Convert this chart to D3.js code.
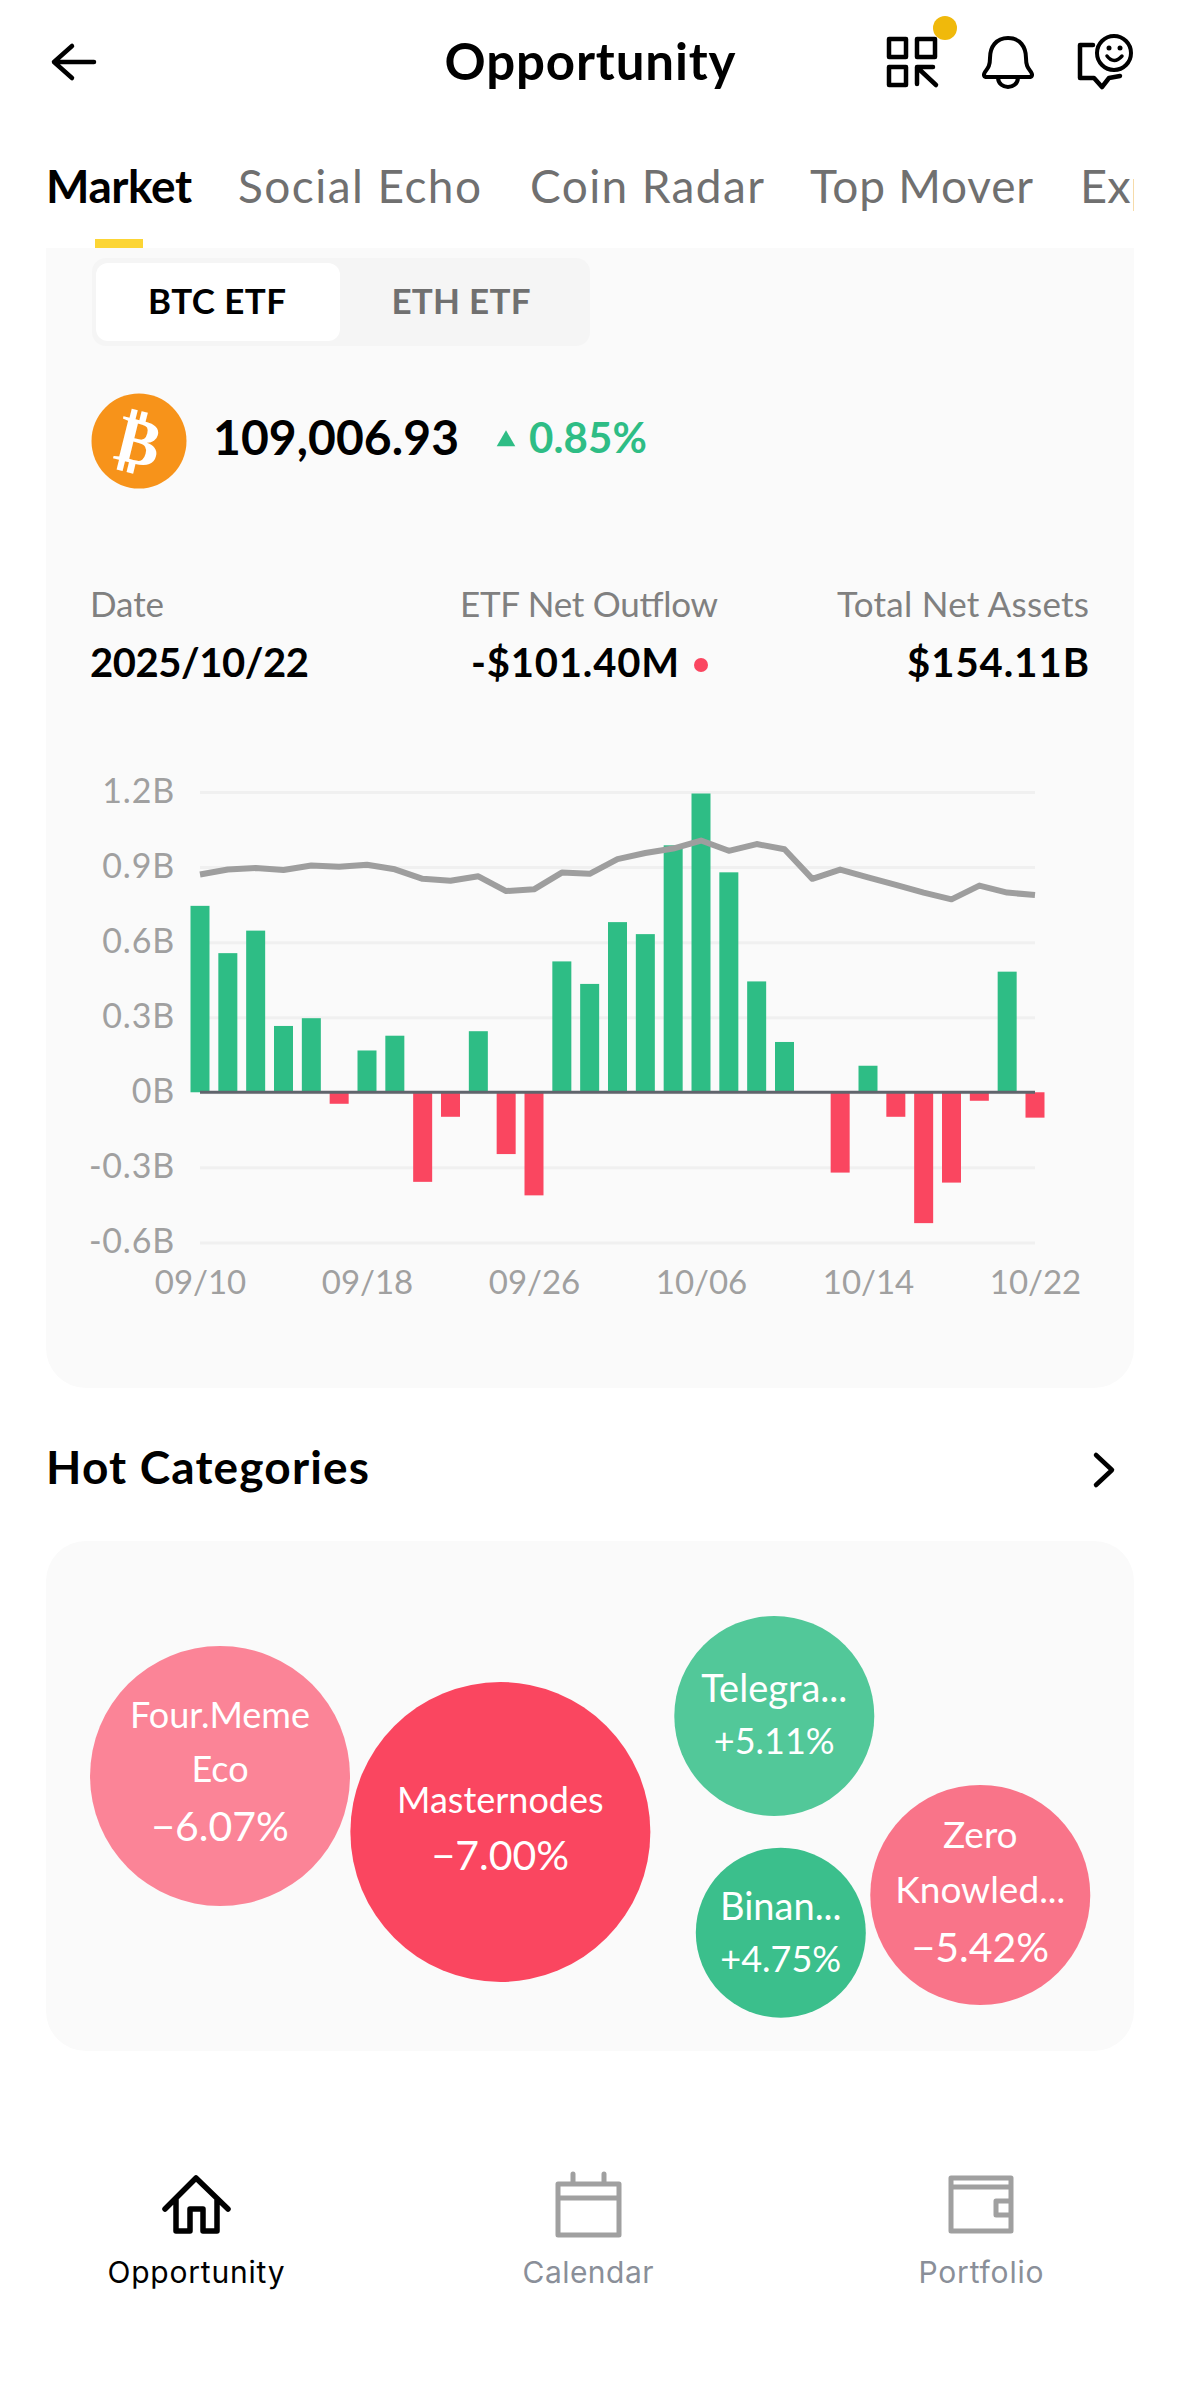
<!DOCTYPE html>
<html><head><meta charset="utf-8">
<script src="https://cdnjs.cloudflare.com/ajax/libs/d3/7.8.5/d3.min.js"></script>
<style>html,body{margin:0;padding:0;background:#fff}svg{display:block}text{font-family:Lato,"Noto Sans",sans-serif}</style>
</head><body><svg id="c" width="1179" height="2396"></svg>
<script>
const days=["09/10","09/11","09/12","09/15","09/16","09/17","09/18","09/19","09/22","09/23","09/24","09/25","09/26","09/29","09/30","10/01","10/02","10/03","10/06","10/07","10/08","10/09","10/10","10/13","10/14","10/15","10/16","10/17","10/20","10/21","10/22"];
const netFlow=[.745,.556,.646,.265,.296,-.046,.167,.226,-.358,-.098,.244,-.247,-.412,.523,.433,.68,.632,.987,1.194,.879,.443,.201,-.003,-.321,.106,-.098,-.523,-.361,-.034,.482,-.1014];
const netAssetsLine=[.870,.890,.896,.888,.906,.901,.909,.891,.853,.845,.863,.804,.811,.878,.873,.932,.956,.974,1.006,.965,.992,.971,.853,.890,.859,.829,.798,.771,.826,.798,.788];
const yTicks=[-.6,-.3,0,.3,.6,.9,1.2];
const xTicks=["09/10","09/18","09/26","10/06","10/14","10/22"];
const tabs=["Market","Social Echo","Coin Radar","Top Mover","Exp"];
const bubbleNames=[["Four.Meme","Eco"],["Masternodes"],["Telegra..."],["Binan..."],["Zero","Knowled..."]];
const bubbleChange=[-6.07,-7.00,5.11,4.75,-5.42];
const bubbleColX=[.1601,.4180,.6700,.6760,.8595];
const bubbleRowY=[.4608,.5706,.3431,.7680,.6941];
const bubbleFill=["#FB8497","#FA4660","#52C899","#3BBF8C","#F97489"];

const GREEN="#2EBD85",RED="#FA4660";
const svg=d3.select("#c");
const T=(s,x,y,size,o={})=>{const t=svg.append("text").text(s).attr("x",x).attr("y",y).attr("font-size",size)
  .attr("font-weight",o.w||400).attr("fill",o.c||"#000").attr("text-anchor",o.a||"start");
  if(o.tl)t.attr("textLength",o.tl); if(o.f)t.style("font-family",o.f); return t;};

// cards
svg.append("path").attr("d","M46 248H1134V1348a40 40 0 0 1-40 40H86a40 40 0 0 1-40-40Z").attr("fill","#fafafa");
svg.append("rect").attr("x",46).attr("y",1541).attr("width",1088).attr("height",510).attr("rx",40).attr("fill","#fafafa");

// header
T("Opportunity",590,80,51,{w:700,a:"middle",tl:291});
const icon=(d,sw=4,c="#000")=>svg.append("path").attr("d",d).attr("fill","none").attr("stroke",c).attr("stroke-width",sw).attr("stroke-linecap","round").attr("stroke-linejoin","round");
icon("M94 62H54M72 46L54 62L72 78",4.5);
icon("M889 39h17v18h-17ZM917 39h18v18h-18ZM889 67h17v18h-17ZM917 84V67h16M920 70L936 85",4.5);
svg.append("circle").attr("cx",945).attr("cy",28).attr("r",12).attr("fill","#F0B90B");
icon("M1008 38c-12 0-18 9-18 20c0 8-2 10-5 14c-2 3-1 5 2 5h42c3 0 4-2 2-5c-3-4-5-6-5-14c0-11-6-20-18-20ZM998 78c1 12 19 12 20 0",4);
icon("M1093 45H1080V78H1094L1102 87L1109 78L1120 76",4.5);
svg.append("circle").attr("cx",1114).attr("cy",53).attr("r",17).attr("fill","none").attr("stroke","#000").attr("stroke-width",4);
svg.append("circle").attr("cx",1109).attr("cy",48).attr("r",2.5);svg.append("circle").attr("cx",1120).attr("cy",48).attr("r",2.5);
icon("M1107 56Q1114 65 1122 56",3.5);

// tabs
svg.append("clipPath").attr("id","tc").append("rect").attr("x",0).attr("y",150).attr("width",1134).attr("height",90);
const tabG=svg.append("g").attr("clip-path","url(#tc)");
const tabX=[46,238,530,810,1080],tabL=[146,243,234,223,null];
tabs.forEach((t,i)=>{const e=tabG.append("text").text(t).attr("x",tabX[i]).attr("y",203).attr("font-size",i===4?47:46).attr("font-weight",i?400:700).attr("fill",i?"#707070":"#000"); if(tabL[i])e.attr("textLength",tabL[i]);});
svg.append("rect").attr("x",95).attr("y",239).attr("width",48).attr("height",9).attr("fill","#FCD535");

// segment
svg.append("rect").attr("x",92).attr("y",258).attr("width",498).attr("height",88).attr("rx",14).attr("fill","#f5f5f5");
svg.append("rect").attr("x",96).attr("y",263).attr("width",244).attr("height",78).attr("rx",12).attr("fill","#fff");
T("BTC ETF",217,314,35,{w:700,a:"middle",tl:138});
T("ETH ETF",461,314,35,{w:700,a:"middle",c:"#707070",tl:139});

// price row
svg.append("circle").attr("cx",139).attr("cy",441).attr("r",47.5).attr("fill","#F7931A");
svg.append("text").text("₿").attr("x",139).attr("y",464).attr("font-size",66).attr("font-weight",700).attr("fill","#fff").attr("text-anchor","middle")
  .attr("transform","rotate(14 139 441)").style("font-family","'DejaVu Sans'");
T("109,006.93",213,455,48,{w:700,tl:246});
svg.append("path").attr("d",d3.symbol(d3.symbolTriangle,150)()).attr("transform","translate(506,441)").attr("fill",GREEN);
T("0.85%",529,453,42,{w:700,c:GREEN,tl:118});

// stats
T("Date",90,617,35,{c:"#808080",tl:74});
T("ETF Net Outflow",589,617,35,{c:"#808080",a:"middle",tl:258});
T("Total Net Assets",1089,617,35,{c:"#808080",a:"end",tl:252});
T("2025/10/22",90,677,40,{w:700,tl:219});
T("-$101.40M",575,677,40,{w:700,a:"middle",tl:208});
svg.append("circle").attr("cx",701).attr("cy",665).attr("r",7).attr("fill",RED);
T("$154.11B",1089,677,40,{w:700,a:"end",tl:182});

// chart
const x=d3.scalePoint().domain(days).range([200,1035]);
const y=d3.scaleLinear().domain([-.6,1.2]).range([1242.4,792]);
const yFmt=v=>v===0?"0B":v.toFixed(1)+"B";
const yAxis=svg.append("g").attr("transform","translate(200,0)").call(d3.axisLeft(y).tickValues(yTicks).tickFormat(yFmt).tickSize(-835).tickPadding(25));
yAxis.select(".domain").remove();
yAxis.selectAll("line").attr("stroke","#f0f0f0").attr("stroke-width",3);
yAxis.selectAll("text").attr("font-size",34).attr("letter-spacing",.8).attr("fill","#a0a0a0").attr("dy",null).attr("y",0).attr("transform","translate(0,10)");
const xAxis=svg.append("g").attr("transform","translate(0,1242.4)").call(d3.axisBottom(x).tickValues(xTicks).tickSize(0));
xAxis.select(".domain").remove();
xAxis.selectAll("text").attr("font-size",33).attr("fill","#a0a0a0").attr("dy",null).attr("y",0).attr("transform","translate(0,51.6)");
const bw=19;
svg.append("g").selectAll("rect").data(days).join("rect")
  .attr("x",d=>x(d)-bw/2).attr("width",bw)
  .attr("y",(d,i)=>y(Math.max(netFlow[i],0)))
  .attr("height",(d,i)=>Math.abs(y(netFlow[i])-y(0)))
  .attr("fill",(d,i)=>netFlow[i]>=0?GREEN:RED);
svg.append("line").attr("x1",200).attr("x2",1035).attr("y1",y(0)).attr("y2",y(0)).attr("stroke","#60646c").attr("stroke-width",3);
svg.append("path").attr("d",d3.line().x(d=>x(d)).y((d,i)=>y(netAssetsLine[i]))(days)).attr("fill","none").attr("stroke","#9e9e9e").attr("stroke-width",6).attr("stroke-linejoin","round");

// hot categories
T("Hot Categories",46,1484,46,{w:700,tl:323});
icon("M1096 1455L1112 1470L1096 1485",4.5);
const bx=d3.scaleLinear().domain([0,1]).range([46,1133]);
const by=d3.scaleLinear().domain([0,1]).range([1541,2051]);
const br=d3.scaleLinear().domain([4.75,5.11,5.42,6.07,7]).range([85,100,110,130,150]);
const pctOffset=[65,38,38,39,67], nameGap=[59,57,52,52,59], lineH=[54,0,0,0,55], pctSize=[41,41,36,36,41], nameSize=[36,36,38,38,37];
const bg=svg.append("g");
bubbleChange.forEach((c,i)=>{
  const cx=bx(bubbleColX[i]), cy=by(bubbleRowY[i]), r=br(Math.abs(c));
  bg.append("circle").attr("cx",cx).attr("cy",cy).attr("r",r).attr("fill",bubbleFill[i]);
  const n=bubbleNames[i], pctY=cy+pctOffset[i];
  n.forEach((s,j)=>{
    bg.append("text").text(s).attr("x",cx).attr("y",pctY-nameGap[i]-(n.length-1-j)*lineH[i]).attr("font-size",nameSize[i]).attr("fill","#fff").attr("text-anchor","middle");
  });
  bg.append("text").text((c>0?"+":"−")+Math.abs(c).toFixed(2)+"%").attr("x",cx).attr("y",pctY).attr("font-size",pctSize[i]).attr("fill","#fff").attr("text-anchor","middle");
});

// bottom nav
icon("M165 2209L196 2178L228 2209M176 2199V2231H190V2209H203V2231H217V2199",5.5);
T("Opportunity",196,2283,30,{a:"middle",tl:177,f:"Inter"});
icon("M558 2184h61v51h-61ZM558 2198h61M573 2174v10M604 2174v10",5,"#a0a0a0");
T("Calendar",588,2283,30,{a:"middle",c:"#8a8f99",tl:131,f:"Inter"});
icon("M951 2178h60v53h-60ZM951 2187h60M1011 2201h-15v14h15",5,"#a0a0a0");
T("Portfolio",981,2283,30,{a:"middle",c:"#8a8f99",tl:125,f:"Inter"});
</script></body></html>
